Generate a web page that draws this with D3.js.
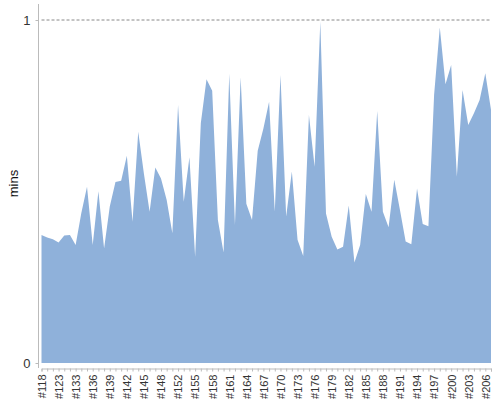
<!DOCTYPE html>
<html>
<head>
<meta charset="utf-8">
<script src="https://cdn.jsdelivr.net/npm/d3@7"></script>
<style>
  body { margin: 0; background: #fff; }
  svg { display: block; font-family: "Liberation Sans", Arial, sans-serif; }
</style>
</head>
<body>
<div id="chart"></div>
<script>
// category ids along the x axis (every third one is labelled)
const ids = [
  "#118", "#119", "#121", "#123", "#126", "#130", "#133", "#134", "#135", "#136",
  "#137", "#138", "#139", "#140", "#141", "#142", "#143", "#144", "#145", "#146",
  "#147", "#148", "#149", "#151", "#152", "#153", "#154", "#155", "#156", "#157",
  "#158", "#159", "#160", "#161", "#162", "#163", "#164", "#165", "#166", "#167",
  "#168", "#169", "#170", "#171", "#172", "#173", "#174", "#175", "#176", "#177",
  "#178", "#179", "#180", "#181", "#182", "#183", "#184", "#185", "#186", "#187",
  "#188", "#189", "#190", "#191", "#192", "#193", "#194", "#195", "#196", "#197",
  "#198", "#199", "#200", "#201", "#202", "#203", "#204", "#205", "#206", "#208"
];

// minutes per id
const mins = [
  0.373, 0.366, 0.361, 0.351, 0.372, 0.373, 0.344, 0.437, 0.514, 0.344,
  0.501, 0.334, 0.456, 0.528, 0.531, 0.604, 0.412, 0.674, 0.552, 0.441,
  0.570, 0.538, 0.475, 0.378, 0.752, 0.470, 0.600, 0.310, 0.699, 0.827,
  0.794, 0.417, 0.322, 0.843, 0.402, 0.833, 0.464, 0.417, 0.619, 0.684,
  0.762, 0.441, 0.840, 0.427, 0.558, 0.359, 0.312, 0.723, 0.572, 0.995,
  0.436, 0.368, 0.331, 0.339, 0.459, 0.293, 0.344, 0.493, 0.441, 0.735,
  0.441, 0.396, 0.534, 0.446, 0.354, 0.346, 0.509, 0.405, 0.399, 0.781,
  0.978, 0.813, 0.869, 0.543, 0.796, 0.694, 0.728, 0.767, 0.845, 0.738
];

const yTicks = [0, 1];

const width = 500, height = 400;
const plot = { left: 41.5, right: 491, top: 20, bottom: 363 };

const svg = d3.select("#chart")
  .append("svg")
  .attr("width", width)
  .attr("height", height);

const x = d3.scalePoint()
  .domain(ids)
  .range([plot.left, plot.right]);

const y = d3.scaleLinear()
  .domain([0, 1])
  .range([plot.bottom, plot.top]);

const data = ids.map((id, i) => ({ id: id, v: mins[i] }));

// area
const area = d3.area()
  .x(d => x(d.id))
  .y0(y(0))
  .y1(d => y(d.v));

svg.append("path")
  .datum(data)
  .attr("d", area)
  .attr("fill", "#8fb1da");

// dashed line at the top value
svg.append("line")
  .attr("x1", plot.left)
  .attr("x2", plot.right)
  .attr("y1", y(1))
  .attr("y2", y(1))
  .attr("stroke", "#888")
  .attr("stroke-width", 1)
  .attr("stroke-dasharray", "3,2");

// y axis
const yAxis = svg.append("g")
  .attr("transform", "translate(38.5,0)")
  .call(d3.axisLeft(y).tickValues(yTicks).tickFormat(d3.format("d")).tickSize(3).tickPadding(5));

yAxis.select(".domain").remove();
yAxis.selectAll(".tick line").attr("stroke", "#bbb");
yAxis.selectAll(".tick text")
  .attr("fill", "#333")
  .style("font-size", "13px")
  .style("font-family", "'Liberation Sans', Arial, sans-serif");

svg.append("line")
  .attr("x1", 38.5).attr("x2", 38.5)
  .attr("y1", 4).attr("y2", 368)
  .attr("stroke", "#bbb");

// x axis
const xAxis = svg.append("g")
  .attr("transform", "translate(0,368.5)")
  .call(d3.axisBottom(x)
    .tickValues(ids)
    .tickSize(3)
    .tickFormat((d, i) => i % 3 === 0 ? d : ""));

xAxis.select(".domain").attr("stroke", "#bbb");
xAxis.selectAll(".tick line").attr("stroke", "#bbb");
xAxis.selectAll(".tick text")
  .attr("fill", "#333")
  .style("font-size", "11px")
  .style("font-family", "'Liberation Sans', Arial, sans-serif")
  .attr("text-anchor", "end")
  .attr("transform", "rotate(-90)")
  .attr("x", -6)
  .attr("y", 0)
  .attr("dy", "0.35em");

// y axis title
svg.append("text")
  .attr("transform", "translate(17.5,183.5) rotate(-90)")
  .attr("text-anchor", "middle")
  .attr("fill", "#111")
  .style("font-size", "13px")
  .text("mins");
</script>
</body>
</html>
